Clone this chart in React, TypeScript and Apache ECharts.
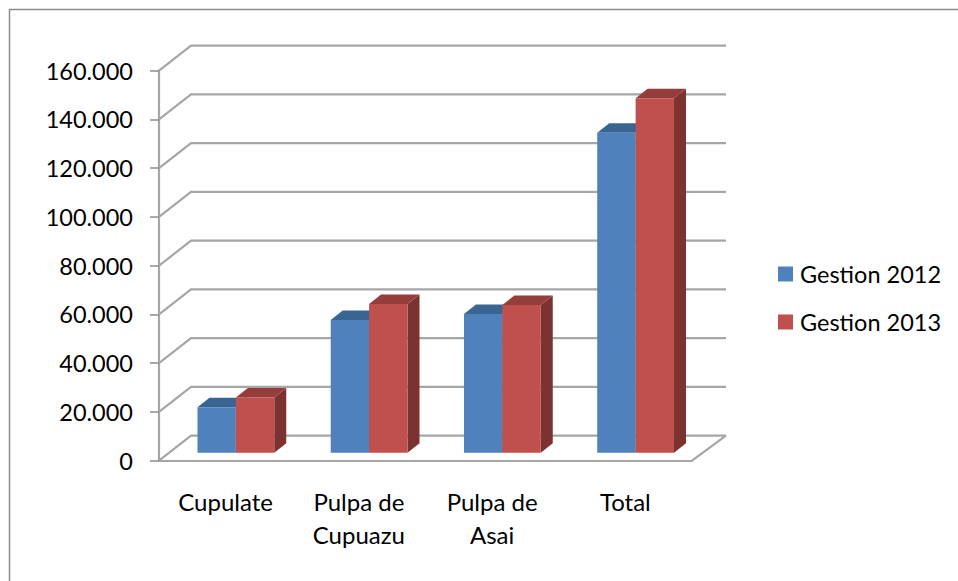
import React, { useEffect, useRef } from "react";
import * as echarts from "echarts";

const categories = ["Cupulate", "Pulpa de\nCupuazu", "Pulpa de\nAsai", "Total"];
const gestion2012 = [18600, 54400, 56900, 131300];
const gestion2013 = [22600, 61000, 60600, 145400];
const axisTicks = [0, 20000, 40000, 60000, 80000, 100000, 120000, 140000, 160000];

const FONT = "Lato";
const GRID_GRAY = "#a6a6a6";
const AXIS_GRAY = "#8c8c8c";

// Oblique projection of the 3D box: wall offset and bar depth, in pixels
const WALL_DX = 32;
const WALL_DY = -25;
const BAR_FRONT = 8 / 25;
const BAR_DX = 12;
const BAR_DY = -9.5;
const BAR_WIDTH = 38.4;

const pts = (list: number[][]) => ({ points: list });

function wallLines(_: any, api: any) {
  const value = api.value(0);
  const [x0, y] = api.coord([0, value]);
  const band = api.size([1, 0])[0];
  const xLeft = x0 - band / 2;
  const xRight = xLeft + band * categories.length;
  const children: any[] = [
    {
      type: "polyline",
      shape: pts([
        [xLeft, y],
        [xLeft + WALL_DX, y + WALL_DY],
        [xRight + WALL_DX + 2, y + WALL_DY],
      ]),
      style: { stroke: GRID_GRAY, lineWidth: 2.2, fill: "none" },
    },
  ];
  if (value === 0) {
    children.push({
      type: "line",
      shape: { x1: xRight, y1: y, x2: xRight + WALL_DX + 2, y2: y + WALL_DY },
      style: { stroke: GRID_GRAY, lineWidth: 2.2 },
    });
  }
  return { type: "group", children };
}

function box(offsetSlot: number, front: string, top: string, side: string) {
  return (_: any, api: any) => {
    const cat = api.value(0);
    const [cx, yTop0] = api.coord([cat, api.value(1)]);
    const [, yBase0] = api.coord([cat, 0]);
    const shiftX = WALL_DX * BAR_FRONT;
    const shiftY = WALL_DY * BAR_FRONT;
    const x1 = cx + shiftX + offsetSlot * BAR_WIDTH;
    const x2 = x1 + BAR_WIDTH;
    const yTop = yTop0 + shiftY;
    const yBase = yBase0 + shiftY;
    return {
      type: "group",
      children: [
        {
          type: "polygon",
          shape: pts([
            [x2, yTop],
            [x2 + BAR_DX, yTop + BAR_DY],
            [x2 + BAR_DX, yBase + BAR_DY],
            [x2, yBase],
          ]),
          style: { fill: side },
        },
        {
          type: "polygon",
          shape: pts([
            [x1, yTop],
            [x1 + BAR_DX, yTop + BAR_DY],
            [x2 + BAR_DX, yTop + BAR_DY],
            [x2, yTop],
          ]),
          style: { fill: top },
        },
        {
          type: "rect",
          shape: { x: x1, y: yTop, width: BAR_WIDTH, height: yBase - yTop },
          style: { fill: front },
        },
      ],
    };
  };
}

export default function App() {
  const ref = useRef<HTMLDivElement>(null);

  useEffect(() => {
    const chart = echarts.init(ref.current!, undefined, { renderer: "svg" });
    chart.setOption({
      animation: false,
      backgroundColor: "#ffffff",
      textStyle: { fontFamily: FONT },
      grid: { left: 159, top: 70.7, width: 533, height: 390 },
      graphic: [
        {
          type: "polyline",
          shape: pts([
            [9.5, 581],
            [9.5, 9.5],
            [958, 9.5],
          ]),
          style: { stroke: AXIS_GRAY, lineWidth: 1.5, fill: "none" },
          silent: true,
        },
      ],
      legend: {
        left: 773,
        top: 253,
        orient: "vertical",
        icon: "rect",
        itemWidth: 15,
        itemHeight: 15,
        itemGap: 16,
        data: ["Gestion 2012", "Gestion 2013"],
        textStyle: {
          fontFamily: FONT,
          fontSize: 23.5,
          color: "#000000",
          padding: [0, 0, 0, 2],
          lineHeight: 32,
        },
      },
      xAxis: {
        type: "category",
        data: categories,
        axisLine: { lineStyle: { color: GRID_GRAY, width: 2.2 } },
        axisTick: { alignWithLabel: false, length: 9, lineStyle: { color: AXIS_GRAY, width: 1.5 } },
        axisLabel: {
          margin: 24,
          interval: 0,
          color: "#000000",
          fontFamily: FONT,
          fontSize: 24,
          lineHeight: 33,
        },
      },
      yAxis: {
        type: "value",
        min: 0,
        max: 160000,
        interval: 20000,
        splitLine: { show: false },
        axisLine: { show: true, lineStyle: { color: GRID_GRAY, width: 2.2 } },
        axisTick: { show: true, length: 9, lineStyle: { color: AXIS_GRAY, width: 1.5 } },
        axisLabel: {
          margin: 26,
          color: "#000000",
          fontFamily: FONT,
          fontSize: 23.5,
          formatter: (v: number) =>
            v === 0 ? "0" : `${Math.floor(v / 1000)}.${String(v % 1000).padStart(3, "0")}`,
        },
      },
      series: [
        {
          type: "custom",
          name: "walls",
          silent: true,
          renderItem: wallLines,
          data: axisTicks.map((t) => [t]),
          encode: { y: 0 },
          z: 1,
        },
        {
          type: "custom",
          name: "Gestion 2012",
          itemStyle: { color: "#4f81bd" },
          renderItem: box(-1, "#4f81bd", "#3a6592", "#3a5f8b"),
          data: gestion2012.map((v, i) => [i, v]),
          encode: { x: 0, y: 1 },
          z: 2,
        },
        {
          type: "custom",
          name: "Gestion 2013",
          itemStyle: { color: "#c0504d" },
          renderItem: box(0, "#c0504d", "#953d3a", "#7c3230"),
          data: gestion2013.map((v, i) => [i, v]),
          encode: { x: 0, y: 1 },
          z: 3,
        },
      ],
    });
    return () => chart.dispose();
  }, []);

  return (
    <div
      ref={ref}
      style={{ position: "absolute", left: 0, top: 0, width: 958, height: 581 }}
    />
  );
}
